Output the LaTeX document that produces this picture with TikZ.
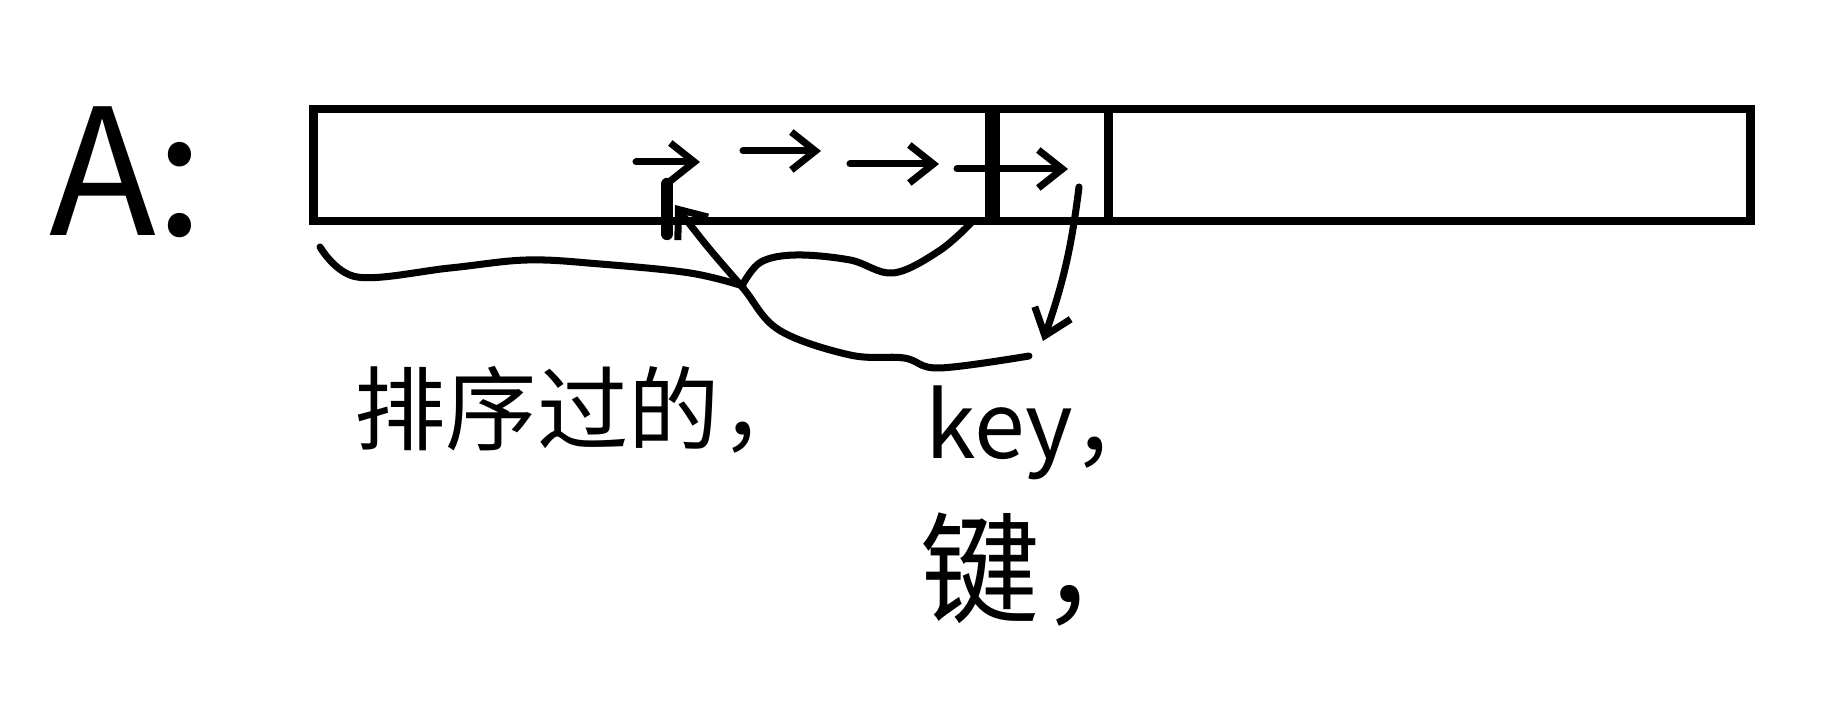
\documentclass[tikz,border=0pt]{standalone}
\usepackage{fontspec}
\setmainfont{Noto Sans CJK SC}
\usetikzlibrary{positioning, arrows.meta, calc}

\begin{document}
\begin{tikzpicture}[
                cell/.style={draw=black, line width=2.4pt, rectangle, minimum height=1.12cm, inner sep=0pt, outer sep=0pt},
                edge/.style={line width=2pt, line cap=round},
                move/.style={edge, -{Straight Barb[length=2.4mm, width=3.8mm]}},
                varlabel/.style={font=\fontsize{26}{30}\selectfont, inner sep=1pt}
            ]
            \useasboundingbox (0,0) rectangle (18.36,7.08);

            % Knoten
            \node[font=\fontsize{50}{56}\selectfont] (lblA) at (1.27,5.36) {A:};
            \node[cell, minimum width=6.79cm] (sorted) at (6.53,5.43) {};
            \node[cell, minimum width=1.16cm, right=0pt of sorted] (keycell) {};
            \node[cell, minimum width=6.42cm, right=0pt of keycell] (rest) {};
            \draw[line width=4pt] (keycell.north west) -- (keycell.south west);

            \node[varlabel] (sortlbl) at (5.83,2.98) {排序过的，};
            \node[varlabel] (keylbl) at (10.45,2.75) {key，};
            \node[varlabel, font=\fontsize{34}{40}\selectfont] (jianlbl) at (10.40,1.38) {键，};

            % Verschieben
            \foreach \xa/\xb/\y [count=\i] in {6.36/7.00/5.46, 7.43/8.21/5.57, 8.50/9.39/5.44, 9.57/10.68/5.39} {
                \coordinate (m\i a) at (\xa,\y);
                \coordinate (m\i b) at (\xb,\y);
                \draw[move] (m\i a) -- (m\i b);
            }

            % Einfuegestelle
            \coordinate (ins) at (6.67,5.24);
            \draw[line width=3.5pt, line cap=round] (ins) -- ++(0,-0.50);

            % Kanten
            \coordinate (kout) at (10.79,5.21);
            \coordinate (kin) at (10.43,3.67);
            \draw[move] (kout) to[bend left=6] (kin);
            \draw[move] plot[smooth, tension=0.6] coordinates {(10.29,3.52) (9.39,3.40) (9.04,3.50) (8.50,3.53) (7.79,3.78) (7.43,4.20) (7.07,4.62) (6.75,5.03)};
            \draw[edge] plot[smooth, tension=0.6] coordinates {(3.20,4.61) (3.57,4.31) (4.50,4.40) (5.27,4.48) (6.00,4.44) (6.90,4.35) (7.43,4.22)};
            \draw[edge] plot[smooth, tension=0.6] coordinates {(7.43,4.24) (7.61,4.46) (7.96,4.53) (8.50,4.48) (8.93,4.35) (9.39,4.57) (9.71,4.85)};

        \end{tikzpicture}
\end{document}
